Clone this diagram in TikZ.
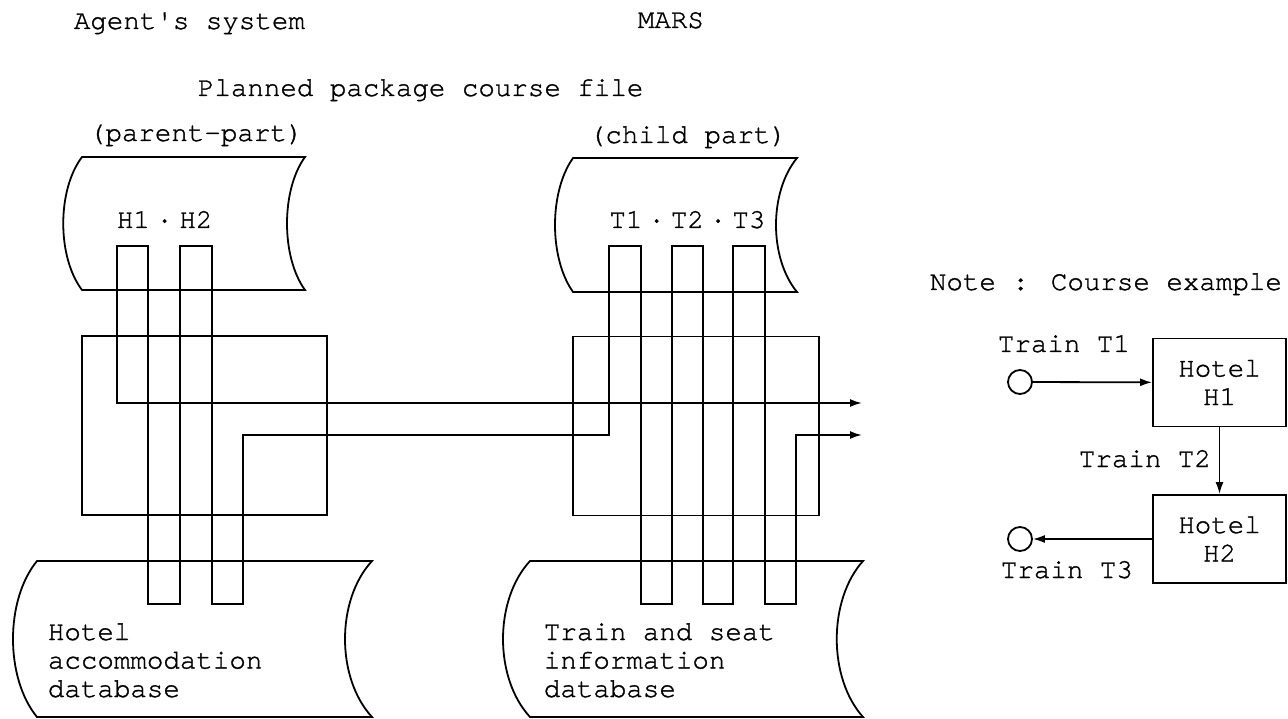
\documentclass[tikz,border=0pt]{standalone}
\usepackage{fontspec}
\setmainfont[Ligatures=NoCommon,FakeBold=1.2]{TeX Gyre Cursor}
\usetikzlibrary{arrows.meta}
\begin{document}
\begin{tikzpicture}[x=1pt,y=-1pt,line width=1.8pt,line join=miter,
  every node/.style={font=\fontsize{27.5}{28.5}\selectfont,inner sep=0pt},
  lbl/.style={anchor=base west},
  arr/.style={-{Latex[length=12pt,width=8pt]}},
  box/.style={draw,minimum width=#1,minimum height=179pt},
  notebox/.style={draw,minimum width=133pt,minimum height=88pt,align=center},
  stn/.style={draw,circle,minimum size=24pt}]
\useasboundingbox (0,0) rectangle (1288,719);

% headers
\node[lbl] (hagent) at (73,29) {Agent\textquotesingle s system};
\node[lbl] (hmars) at (637,28) {MARS};
\node[lbl] (hplan) at (197,96) {Planned package course file};
\node[lbl] (hpar) at (88,141) {(parent-part)};
\node[lbl] (hchi) at (588,143) {(child part)};

% file shapes (planned package course file)
\draw (82,157) -- (305,157) .. controls (281,190) and (281,257) .. (305,290)
  -- (82,290) .. controls (57,257) and (57,190) .. cycle;
\draw (573,158) -- (797,158) .. controls (769,192) and (769,258) .. (797,292)
  -- (573,292) .. controls (549,258) and (549,192) .. cycle;
\node[lbl] (hlab) at (116,228) {H1\kern6.5pt·\kern6.5pt H2};
\node[lbl] (tlab) at (608.5,228) {T1\kern6pt·\kern6pt T2\kern6pt·\kern6pt T3};

% databases
\draw (37,561) -- (372,561) .. controls (336,600) and (336,678) .. (372,717)
  -- (37,717) .. controls (5,678) and (5,600) .. cycle;
\draw (530,561) -- (863,561) .. controls (828,600) and (828,678) .. (863,717)
  -- (530,717) .. controls (494,678) and (494,600) .. cycle;
\node[lbl] (hdb) at (47,640) {\begin{tabular}[t]{@{}l@{}}Hotel\\accommodation\\database\end{tabular}};
\node[lbl] (tdb) at (543,640) {\begin{tabular}[t]{@{}l@{}}Train and seat\\information\\database\end{tabular}};

% systems
\node[box=245pt] (psys) at (204.5,425.5) {};
\node[box=246pt] (csys) at (696,426) {};

% serpentine course line
\coordinate (outA) at (862,403);
\coordinate (outB) at (862,435);
\draw[{Latex[length=12pt,width=8pt]}-{Latex[length=12pt,width=8pt]}]
  (outA) -- (117,403) -- (117,246) -- (148,246) -- (148,604) -- (180,604)
  -- (180,246) -- (212,246) -- (212,604) -- (243,604) -- (243,435)
  -- (609,435) -- (609,246) -- (641,246) -- (641,604) -- (672,604)
  -- (672,246) -- (703,246) -- (703,604) -- (733,604) -- (733,246)
  -- (765,246) -- (765,604) -- (796,604) -- (796,435) -- (outB);

% note
\node[lbl] (note) at (929,290) {Note : Course example};
\node[stn] (c1) at (1020,382) {};
\node[notebox] (h1) at (1219.5,382.5) {Hotel\\H1};
\node[notebox] (h2) at (1219.5,539) {Hotel\\H2};
\node[stn] (c3) at (1020,539) {};
\draw[arr] (c1) -- (h1);
\draw[arr] (h1) -- (h2);
\draw[arr] (h2) -- (c3);
\node[lbl] (t1) at (997,352) {Train T1};
\node[lbl] (t2) at (1078,467) {Train T2};
\node[lbl] (t3) at (1000,578) {Train T3};
\end{tikzpicture}
\end{document}
